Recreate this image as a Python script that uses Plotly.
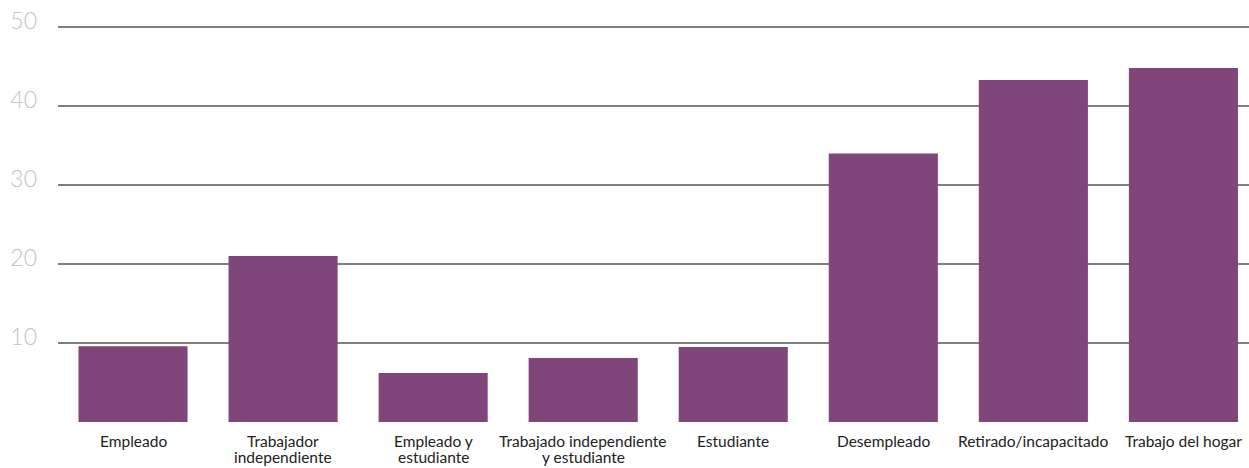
import plotly.graph_objects as go

categories = ["Empleado", "Trabajador<br>independiente", "Empleado y<br>estudiante",
              "Trabajado independiente<br>y estudiante", "Estudiante", "Desempleado",
              "Retirado/incapacitado", "Trabajo del hogar"]
values = [9.6, 21.0, 6.2, 8.1, 9.5, 34.0, 43.3, 44.8]
y_ticks = [10, 20, 30, 40, 50]

x_idx = list(range(len(categories)))
fig = go.Figure(go.Bar(x=x_idx, y=values, marker_color="#80457a", marker_line_width=0))

annotations = []
for i, label in enumerate(categories):
    for j, line in enumerate(label.split("<br>")):
        annotations.append(dict(x=i, y=0, xref="x", yref="y", text=line, showarrow=False,
                                xanchor="center", yanchor="top", yshift=-8 - 16 * j,
                                font=dict(family="Lato", size=15.5, color="#222")))

fig.update_layout(
    width=1249, height=468,
    margin=dict(l=58, r=0, t=26, b=46),
    plot_bgcolor="white", paper_bgcolor="white",
    bargap=0.273, showlegend=False,
    font=dict(family="Lato", color="#222"),
    annotations=annotations,
)
fig.update_xaxes(tickmode="array", tickvals=x_idx, showticklabels=False,
                 range=[-0.5, 7.437], showgrid=False, zeroline=False, showline=False, ticks="")
fig.update_yaxes(range=[0, 50.13], tickmode="array", tickvals=y_ticks, showgrid=True,
                 gridcolor="#7f7f7f", gridwidth=2, zeroline=False, showline=False,
                 tickfont=dict(family="Lato", size=23, color="#c4c4c4", weight=300),
                 ticklabelstandoff=20, ticklabelshift=-6)
fig.write_html("out.html")
